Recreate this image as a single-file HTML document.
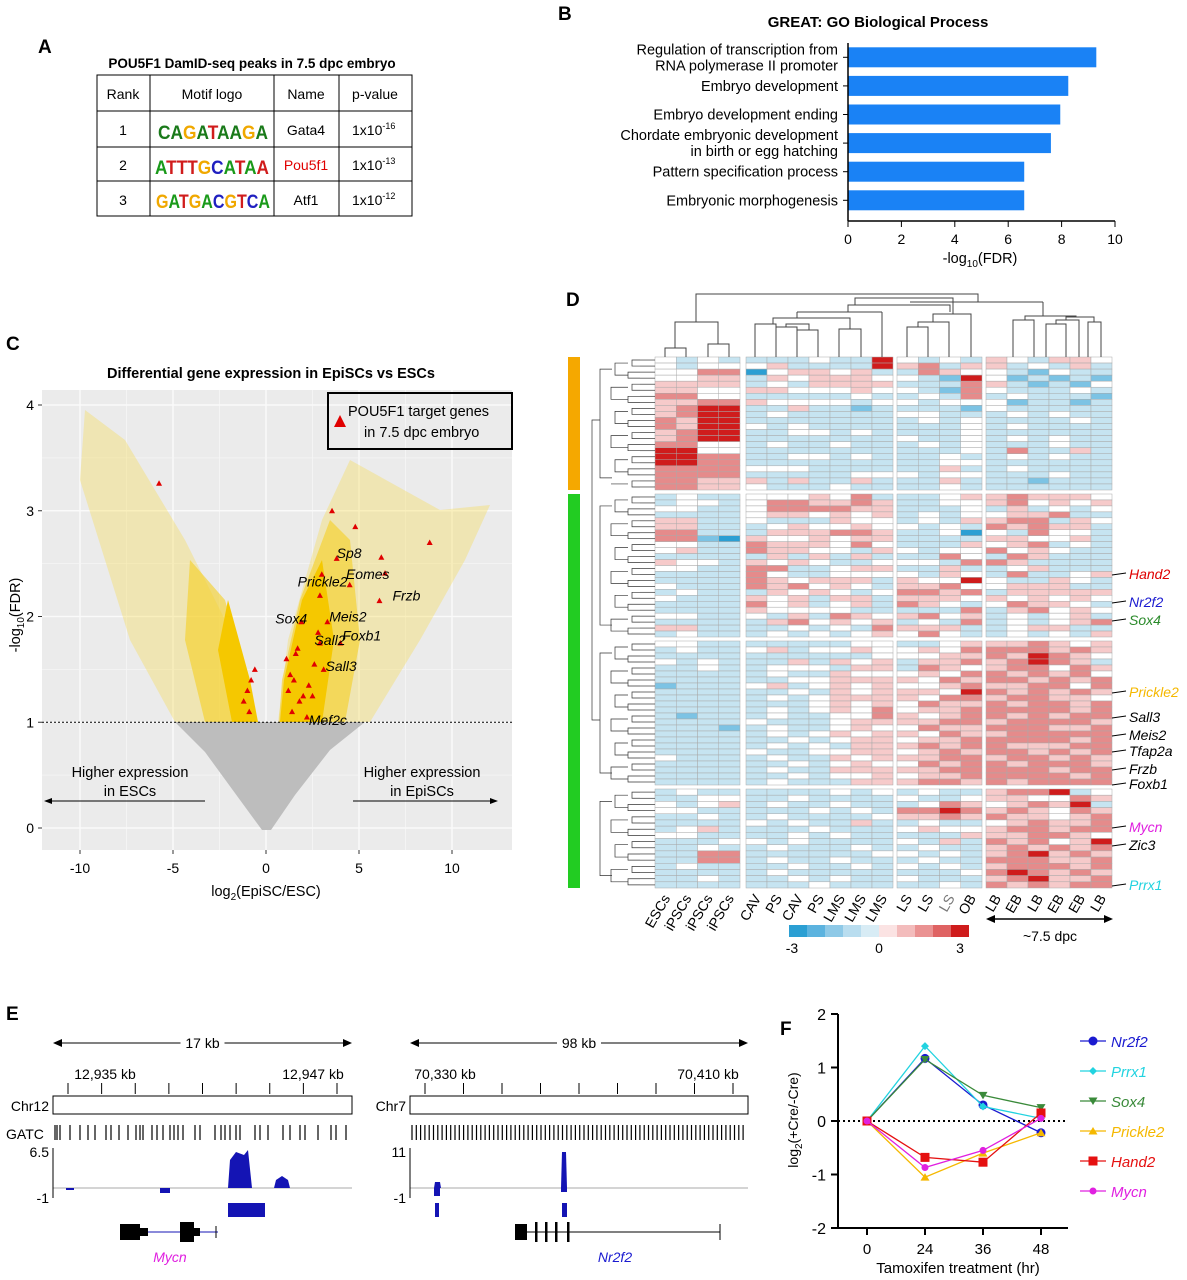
<!DOCTYPE html>
<html><head><meta charset="utf-8"><style>
body{margin:0;background:#fff}
svg{font-family:"Liberation Sans",Arial,sans-serif;display:block}
</style></head><body>
<svg id="fig" width="1187" height="1280" viewBox="0 0 1187 1280" xmlns="http://www.w3.org/2000/svg">
<g font-weight="bold" font-size="19">
<text x="38" y="53">A</text>
<text x="558" y="20">B</text>
<text x="6" y="350">C</text>
<text x="566" y="306">D</text>
<text x="6" y="1020">E</text>
<text x="780" y="1035">F</text>
</g>

<g id="panelA" font-size="14">
<text x="252" y="68" text-anchor="middle" font-weight="bold" font-size="13.5">POU5F1 DamID-seq peaks in 7.5 dpc embryo</text>
<g stroke="#000" stroke-width="1" fill="none">
<rect x="97" y="75" width="315" height="141"/>
<line x1="97" y1="111" x2="412" y2="111"/><line x1="97" y1="147" x2="412" y2="147"/><line x1="97" y1="181" x2="412" y2="181"/>
<line x1="150" y1="75" x2="150" y2="216"/><line x1="274" y1="75" x2="274" y2="216"/><line x1="339" y1="75" x2="339" y2="216"/>
</g>
<text x="123" y="99" text-anchor="middle">Rank</text><text x="212" y="99" text-anchor="middle">Motif logo</text><text x="306" y="99" text-anchor="middle">Name</text><text x="375" y="99" text-anchor="middle">p-value</text>
<text x="123" y="135" text-anchor="middle">1</text><text x="123" y="170" text-anchor="middle">2</text><text x="123" y="205" text-anchor="middle">3</text>
<g font-weight="bold" font-size="19">
<text x="158" y="139" textLength="110" lengthAdjust="spacingAndGlyphs"><tspan fill="#1a7a1a">CA</tspan><tspan fill="#f0a800">G</tspan><tspan fill="#1a7a1a">A</tspan><tspan fill="#d01c1c">T</tspan><tspan fill="#1a7a1a">AA</tspan><tspan fill="#f0a800">G</tspan><tspan fill="#1a7a1a">A</tspan></text>
<text x="155" y="174" textLength="114" lengthAdjust="spacingAndGlyphs"><tspan fill="#1a9a1a">A</tspan><tspan fill="#d01c1c">TTT</tspan><tspan fill="#f0a800">G</tspan><tspan fill="#2020c0">C</tspan><tspan fill="#1a9a1a">A</tspan><tspan fill="#d01c1c">T</tspan><tspan fill="#1a9a1a">A</tspan><tspan fill="#d01c1c">A</tspan></text>
<text x="156" y="208" textLength="114" lengthAdjust="spacingAndGlyphs"><tspan fill="#f0a800">G</tspan><tspan fill="#1a9a1a">A</tspan><tspan fill="#d01c1c">T</tspan><tspan fill="#f0a800">G</tspan><tspan fill="#1a9a1a">A</tspan><tspan fill="#2020c0">C</tspan><tspan fill="#f0a800">G</tspan><tspan fill="#d01c1c">T</tspan><tspan fill="#2020c0">C</tspan><tspan fill="#1a9a1a">A</tspan></text>
</g>
<text x="306" y="135" text-anchor="middle">Gata4</text><text x="306" y="170" text-anchor="middle" fill="#e00000">Pou5f1</text><text x="306" y="205" text-anchor="middle">Atf1</text>
<text x="352" y="135">1x10<tspan font-size="9" dy="-6">-16</tspan></text>
<text x="352" y="170">1x10<tspan font-size="9" dy="-6">-13</tspan></text>
<text x="352" y="205">1x10<tspan font-size="9" dy="-6">-12</tspan></text>
</g>

<g id="panelB"></g>
<g id="panelC"></g>
<g id="panelD"></g>
<g id="panelE"></g>
<g id="panelF"></g>
</svg>
<script>
const NS="http://www.w3.org/2000/svg";
function mk(parent,tag,attrs,text){const e=document.createElementNS(NS,tag);for(const k in attrs)e.setAttribute(k,attrs[k]);if(text!==undefined)e.textContent=text;parent.appendChild(e);return e;}

/* ---------- Panel B data ---------- */
const goTerms=[["Regulation of transcription from","RNA polymerase II promoter"],["Embryo development"],["Embryo development ending"],["Chordate embryonic development","in birth or egg hatching"],["Pattern specification process"],["Embryonic morphogenesis"]];
const goValues=[9.3,8.25,7.95,7.6,6.6,6.6];
const goTicks=[0,2,4,6,8,10];

/* ---------- Panel C data ---------- */
const targetLog2FC=[-5.75,8.8,6.2,6.4,3.55,4.8,3.8,4.5,6.1,2.9,3.3,1.9,2.9,4.0,3.1,2.2,1.2,1.5,1.8,2.3,1.4,2.6,1.1,1.7,2.0,2.5,1.3,-0.8,-1.0,-1.2,-0.6,-0.9,2.8,1.6,3.0];
const targetLogFDR=[3.26,2.7,2.56,2.41,3.0,2.85,2.55,2.3,2.15,2.2,1.95,1.95,1.75,1.75,1.5,1.05,1.3,1.4,1.2,1.35,1.1,1.55,1.6,1.7,1.25,1.25,1.45,1.4,1.3,1.2,1.5,1.1,1.85,1.65,2.4];
const geneLabels=["Sp8","Eomes","Frzb","Prickle2","Meis2","Sox4","Sall2","Foxb1","Sall3","Mef2c"];
const geneLabelX=[3.8,4.3,6.8,1.7,3.4,0.5,2.6,4.1,3.2,2.3];
const geneLabelY=[2.6,2.4,2.2,2.33,2.0,1.98,1.78,1.82,1.53,1.02];
const volcanoXTicks=[-10,-5,0,5,10];
const volcanoYTicks=[0,1,2,3,4];

/* ---------- Panel D data (levels 0..6 = -3..3) ---------- */
const heatBlock1=["3232|2223226|3232|432443","3233|3422226|4524|423242","3355|0344342|2543|321322","3344|2434443|3216|312121","4444|2324444|2225|421213","4433|4433343|3215|322232","5533|2222232|2325|232221","4455|4333323|3233|312212","4566|2242212|2221|322222","4566|2322222|3322|232322","5466|2222222|2323|222232","5466|3232222|2223|232222","4566|2233232|2223|222222","4566|2222222|3223|232322","5533|2322322|2323|222322","6633|2222222|2223|252242","6655|2233232|2232|232322","6655|2222222|2233|222222","5555|3332222|2242|232222","5555|2222233|3233|222322","5544|4242242|2242|221222","5544|3222322|2232|222222"];
const heatBlock2=["2322|3334352|2234|454443","2332|3554454|2233|453434","3322|3555544|2223|242323","2222|3443434|2323|344522","4422|3222433|2324|455243","4422|2343343|3232|545442","5522|2444554|2230|325332","5510|4334344|2222|443342","3322|5444353|2224|345232","3422|5443324|3233|534322","2222|2424242|2253|254222","4332|4343223|3325|542222","3322|5522344|2242|234222","2222|5322333|3243|252234","2222|5434442|4336|322432","3222|5453432|4453|344422","2322|2434323|5545|244444","3222|4342442|4443|434343","2222|5342342|5432|354432","2222|4333322|2225|245343","3322|3242543|4534|232342","2222|2453434|2325|232345","4422|2232325|4442|234422","2322|2323234|3532|232324"];
const heatBlock3=["3322|2222233|2234|445434","2322|3423343|3435|555454","2222|2222223|3344|546543","3232|2242434|2445|456542","2232|2333244|2543|455354","2222|2322433|3435|545453","2222|2233444|4354|554545","1222|3423434|3345|445535","2222|2232434|4436|545454","2222|2323444|4355|455443","2222|2223434|3544|545545","2222|2323435|3445|555545","2122|2322335|4345|545455","2222|3222344|4455|455554","2221|2322343|3544|555445","2222|2323434|4354|455555","2222|2232344|3445|555545","2222|2323244|4545|544455","2222|3223344|3454|554545","3222|2322434|4455|455454","2222|2232343|3545|545554","2222|2322444|4455|555455","2222|2232334|3445|555545","2222|2322244|4554|545555"];
const heatBlock4=["2322|2222323|2322|455623","2233|2232222|3223|443354","3234|2322322|2354|345462","3322|2223232|5565|454354","2232|2322223|4454|544345","2222|3232242|2322|345445","2342|2223222|3433|455455","3322|2232322|2224|445543","2223|3232222|3242|545346","2232|2322232|2322|454545","2255|2222223|3232|456454","2255|2322322|2322|555445","2322|2232232|3232|455545","2222|2322222|2223|565454","2232|2232322|3222|456445","2222|2223222|2232|545455"];
const heatColumns=["ESCs","iPSCs","iPSCs","iPSCs","CAV","PS","CAV","PS","LMS","LMS","LMS","LS","LS","LS","OB","LB","EB","LB","EB","EB","LB"];
const heatGenes=["Hand2","Nr2f2","Sox4","Prickle2","Sall3","Meis2","Tfap2a","Frzb","Foxb1","Mycn","Zic3","Prrx1"];
const heatGeneY=[575,603,621,693,718,736,752,770,785,828,846,886];
const heatGeneColors=["#e00000","#1a1ad0","#2a8a2a","#f5b800","#000","#000","#000","#000","#000","#e020e0","#000","#22d3e0"];

/* ---------- Panel E data ---------- */
const mycnGatc=[55,57,60,70,80,88,95,106,111,119,128,136,140,143,152,157,163,170,174,178,183,195,200,215,221,225,230,236,240,255,260,268,283,290,300,305,318,331,336,346];

/* ---------- Panel F data ---------- */
const timepoints=["0","24","36","48"];
const nr2f2=[0,1.17,0.3,-0.22];
const prrx1=[0,1.4,0.27,0.05];
const sox4=[0,1.15,0.48,0.25];
const prickle2=[0,-1.05,-0.6,-0.22];
const hand2=[0,-0.68,-0.77,0.15];
const mycn=[0,-0.87,-0.55,0.05];
const fYTicks=[-2,-1,0,1,2];

/* ---------- Panel B draw ---------- */
(function(){
 const g=document.getElementById('panelB');
 const x0=848,pxu=26.7,top=43,bh=28.6;
 const X=v=>x0+v*pxu;
 const t=mk(g,'text',{x:878,y:27,'text-anchor':'middle','font-weight':'bold','font-size':15},'GREAT: GO Biological Process');
 
 
 goValues.forEach((v,i)=>{
  const cy=top+bh*(i+0.5);
  const r=mk(g,'rect',{x:X(0),y:cy-10,width:X(v)-X(0),height:20,fill:'#1a82f5'});
  
  
  mk(g,'line',{x1:x0-5,y1:cy,x2:x0,y2:cy,stroke:'#000'});
  const lines=goTerms[i];
  lines.forEach((s,j)=>{
   const lt=mk(g,'text',{x:838,y:cy+5+(lines.length>1?(j-0.5)*16:0),'text-anchor':'end','font-size':14.5},s);
   
   
  });
 });
 mk(g,'line',{x1:x0,y1:top,x2:x0,y2:221,stroke:'#000','stroke-width':1.5});
 mk(g,'line',{x1:x0,y1:221,x2:X(10),y2:221,stroke:'#000','stroke-width':1.5});
 goTicks.forEach(v=>{mk(g,'line',{x1:X(v),y1:221,x2:X(v),y2:227,stroke:'#000'});
  const tl=mk(g,'text',{x:X(v),y:244,'text-anchor':'middle','font-size':14},String(v));
  
  });
 const xl=mk(g,'text',{x:980,y:263,'text-anchor':'middle','font-size':14.5});
 xl.innerHTML='-log<tspan font-size="10" dy="4">10</tspan><tspan dy="-4">(FDR)</tspan>';
 
 
})();

/* ---------- Panel C draw ---------- */
(function(){
 const g=document.getElementById('panelC');
 const X=v=>266+v*18.6, Y=v=>828-v*105.75;
 const tt=mk(g,'text',{x:271,y:378,'text-anchor':'middle','font-weight':'bold','font-size':14.5},'Differential gene expression in EpiSCs vs ESCs');
 
 
 mk(g,'rect',{x:42,y:390,width:470,height:460,fill:'#ebebeb'});
 [-7.5,-2.5,2.5,7.5].forEach(v=>mk(g,'line',{x1:X(v),y1:390,x2:X(v),y2:850,stroke:'#f6f6f6','stroke-width':0.8}));
 volcanoXTicks.forEach(v=>mk(g,'line',{x1:X(v),y1:390,x2:X(v),y2:850,stroke:'#fafafa','stroke-width':1.4}));
 [0.5,1.5,2.5,3.5].forEach(v=>mk(g,'line',{x1:42,y1:Y(v),x2:512,y2:Y(v),stroke:'#f6f6f6','stroke-width':0.8}));
 volcanoYTicks.forEach(v=>mk(g,'line',{x1:42,y1:Y(v),x2:512,y2:Y(v),stroke:'#fafafa','stroke-width':1.4}));
 const gray=mk(g,'polygon',{points:'262,830 271,830 295,795 330,750 365,722 175,722 205,752 240,800',fill:'#bdbdbd'});
 
 
 mk(g,'polygon',{points:'255,722 175,722 130,640 80,480 85,410 125,440 185,540 235,640',fill:'#f7d94a',opacity:0.35});
 mk(g,'polygon',{points:'256,722 205,722 185,640 190,560 225,600 248,680',fill:'#f5cf20',opacity:0.6});
 mk(g,'polygon',{points:'258,722 232,722 218,650 228,600 250,680',fill:'#f5c800'});
 mk(g,'polygon',{points:'278,722 370,722 420,640 465,560 490,505 440,510 350,460 322,520 288,640',fill:'#f7d94a',opacity:0.35});
 mk(g,'polygon',{points:'279,722 345,722 360,640 350,540 330,520 300,600 282,680',fill:'#f5cf20',opacity:0.6});
 const yr=mk(g,'polygon',{points:'280,722 322,722 334,640 322,560 302,600 284,680',fill:'#f5c800'});
 
 
 mk(g,'line',{x1:42,y1:Y(1),x2:512,y2:Y(1),stroke:'#000','stroke-dasharray':'2,2'});
 targetLog2FC.forEach((v,i)=>{const x=X(v),y=Y(targetLogFDR[i]);
  const p=mk(g,'polygon',{points:`${x},${y-3} ${x-3},${y+2.5} ${x+3},${y+2.5}`,fill:'#e00000'});
  
  });
 geneLabels.forEach((s,i)=>{
  const t=mk(g,'text',{x:X(geneLabelX[i]),y:Y(geneLabelY[i])+5,'font-size':14,'font-style':'italic'},s);
  
  });
 mk(g,'rect',{x:328,y:393,width:184,height:56,fill:'none',stroke:'#000','stroke-width':2});
 mk(g,'polygon',{points:'340,415 334,427 346,427',fill:'#e00000'});
 mk(g,'text',{x:348,y:416,'font-size':14.5},'POU5F1 target genes');
 mk(g,'text',{x:364,y:437,'font-size':14.5},'in 7.5 dpc embryo');
 mk(g,'text',{x:130,y:777,'text-anchor':'middle','font-size':14.5},'Higher expression');
 mk(g,'text',{x:130,y:796,'text-anchor':'middle','font-size':14.5},'in ESCs');
 mk(g,'text',{x:422,y:777,'text-anchor':'middle','font-size':14.5},'Higher expression');
 mk(g,'text',{x:422,y:796,'text-anchor':'middle','font-size':14.5},'in EpiSCs');
 mk(g,'line',{x1:205,y1:801,x2:50,y2:801,stroke:'#000'});mk(g,'polygon',{points:'44,801 52,798 52,804',fill:'#000'});
 mk(g,'line',{x1:353,y1:801,x2:492,y2:801,stroke:'#000'});mk(g,'polygon',{points:'498,801 490,798 490,804',fill:'#000'});
 volcanoXTicks.forEach(v=>{mk(g,'line',{x1:X(v),y1:850,x2:X(v),y2:854,stroke:'#333'});
  const t=mk(g,'text',{x:X(v),y:873,'text-anchor':'middle','font-size':14},String(v));
  
  });
 volcanoYTicks.forEach(v=>{mk(g,'line',{x1:38,y1:Y(v),x2:42,y2:Y(v),stroke:'#333'});
  const t=mk(g,'text',{x:34,y:Y(v)+5,'text-anchor':'end','font-size':14},String(v));
  
  });
 const xl=mk(g,'text',{x:266,y:896,'text-anchor':'middle','font-size':14.5});
 xl.innerHTML='log<tspan font-size="10" dy="4">2</tspan><tspan dy="-4">(EpiSC/ESC)</tspan>';
 
 
 const yl=mk(g,'text',{x:0,y:0,'text-anchor':'middle','font-size':14.5,transform:'translate(20,615) rotate(-90)'});
 yl.innerHTML='-log<tspan font-size="10" dy="4">10</tspan><tspan dy="-4">(FDR)</tspan>';
 
 
})();

/* ---------- Panel D draw ---------- */
(function(){
 const g=document.getElementById('panelD');
 const colors=["#2b9fd3","#7cc3e4","#c6e4f1","#ffffff","#f6caca","#e58b8b","#cf1c1c"];
 const groups=[[655,740,4],[746,893,7],[897,982,4],[986,1112,6]];
 const colX=[];groups.forEach(gr=>{const w=(gr[1]-gr[0])/gr[2];for(let i=0;i<gr[2];i++)colX.push([gr[0]+i*w,w]);});
 const blocks=[[heatBlock1,357,490],[heatBlock2,494,637],[heatBlock3,641,785],[heatBlock4,789,888]];
 blocks.forEach(([rows,y0,y1])=>{const h=(y1-y0)/rows.length;
  rows.forEach((r,ri)=>{const vals=r.replace(/\|/g,'').split('').map(Number);
   vals.forEach((v,ci)=>{const c=mk(g,'rect',{x:colX[ci][0],y:y0+ri*h,width:colX[ci][1],height:h,fill:colors[v],stroke:'#a9a9a9','stroke-width':0.5});
    
    });
   mk(g,'line',{x1:640,y1:y0+(ri+0.5)*h,x2:655,y2:y0+(ri+0.5)*h,stroke:'#333','stroke-width':0.7});
  });
  const n=rows.length;
  for(let k=0;k<n;k+=2){const ya=y0+(k+0.5)*h,yb=y0+(Math.min(k+1,n-1)+0.5)*h;mk(g,'polyline',{points:`640,${ya} ${632-(k%4)*2},${ya} ${632-(k%4)*2},${yb} 640,${yb}`,fill:'none',stroke:'#333','stroke-width':0.7});}
  for(let k=0;k<n;k+=4){const ya=y0+(k+1)*h,yb=y0+(Math.min(k+3,n-1))*h;mk(g,'polyline',{points:`628,${ya} ${615-(k%8)},${ya} ${615-(k%8)},${yb} 628,${yb}`,fill:'none',stroke:'#333','stroke-width':0.7});}
  mk(g,'polyline',{points:`612,${y0+h*2} 600,${y0+h*2} 600,${y1-h*2} 612,${y1-h*2}`,fill:'none',stroke:'#333','stroke-width':0.7});
 });
 mk(g,'polyline',{points:'600,420 592,420 592,720 600,720',fill:'none',stroke:'#333','stroke-width':0.7});
 const ob=mk(g,'rect',{x:568,y:357,width:12,height:133,fill:'#f5a800'});
 
 
 const gb=mk(g,'rect',{x:568,y:494,width:12,height:394,fill:'#22cc22'});
 
 
 const segs=["665,357 665,348 686,348 686,357","708,357 708,344 729,344 729,357","675,348 675,322 718,322 718,344","696,322 696,294 978,294 978,302",
 "755,357 755,324 776,324 776,357","776,324 776,327 797,327 797,357","797,330 818,330 818,357","786,327 786,324 809,324 809,330",
 "839,357 839,329 861,329 861,357","773,324 773,318 850,318 850,329","882,357 882,312","797,312 882,312",
 "797,318 797,312","848,312 848,305 950,305 950,312","907,357 907,327 928,327 928,357","918,327 918,322 949,322 949,357",
 "933,322 933,314 971,314 971,357","855,305 855,298 953,298 953,314","1013,357 1013,320 1034,320 1034,357","1046,357 1046,324 1066,324 1066,357",
 "1056,324 1056,320 1079,320 1079,357","1088,357 1088,322 1101,322 1101,357","1066,320 1066,317 1094,317 1094,322","1025,320 1025,316 1076,316 1076,317","1043,316 1043,302","910,302 1043,302"];
 segs.forEach(p=>{const l=mk(g,'polyline',{points:p,fill:'none',stroke:'#444','stroke-width':1});
  
  });
 const cx=colX.map(c=>c[0]+c[1]/2);
 heatColumns.forEach((s,i)=>{const t=mk(g,'text',{x:0,y:0,'text-anchor':'end','font-size':14,fill:i===13?'#777':'#000',transform:`translate(${cx[i]+5},${898}) rotate(-60)`},s);
  
  });
 heatGenes.forEach((s,i)=>{const y=heatGeneY[i];mk(g,'line',{x1:1112,y1:y,x2:1126,y2:y-2,stroke:'#000'});
  const t=mk(g,'text',{x:1129,y:y+4,'font-size':14,'font-style':'italic',fill:heatGeneColors[i]},s);
  
  });
 const cs=["#2b9fd3","#5cb3df","#8ec9e7","#b9ddef","#d8ecf5","#fbe3e3","#f3bcbc","#ea9292","#df6363","#cf1c1c"];
 cs.forEach((c,i)=>mk(g,'rect',{x:789+i*18,y:925,width:18,height:12,fill:c}));
 [['-3',792],['0',879],['3',960]].forEach(([s,x])=>{const t=mk(g,'text',{x:x,y:953,'text-anchor':'middle','font-size':14},s);
  
  });
 mk(g,'line',{x1:992,y1:919,x2:1107,y2:919,stroke:'#000','stroke-width':1.5});
 mk(g,'polygon',{points:'986,919 995,915 995,923',fill:'#000'});mk(g,'polygon',{points:'1113,919 1104,915 1104,923',fill:'#000'});
 mk(g,'text',{x:1050,y:941,'text-anchor':'middle','font-size':14},'~7.5 dpc');
})();

/* ---------- Panel E draw ---------- */
(function(){
 const g=document.getElementById('panelE');
 function track(x0,x1,span,lblL,lblR,lxL,lxR,chr,gatc,ymax,peaks,bars,gene,gx,gcol,gname){
  mk(g,'line',{x1:x0+6,y1:1043,x2:x1-6,y2:1043,stroke:'#000'});
  mk(g,'polygon',{points:`${x0},1043 ${x0+9},1039 ${x0+9},1047`,fill:'#000'});mk(g,'polygon',{points:`${x1},1043 ${x1-9},1039 ${x1-9},1047`,fill:'#000'});
  const mid=(x0+x1)/2;mk(g,'rect',{x:mid-22,y:1035,width:44,height:16,fill:'#fff'});
  mk(g,'text',{x:mid,y:1048,'text-anchor':'middle','font-size':14},span);
  mk(g,'text',{x:lxL,y:1079,'text-anchor':'middle','font-size':14},lblL);mk(g,'text',{x:lxR,y:1079,'text-anchor':'middle','font-size':14},lblR);
  for(let i=0;i<9;i++){const x=x0+15+i*(x1-x0-30)/8;mk(g,'line',{x1:x,y1:1083,x2:x,y2:1094,stroke:'#000'});}
  mk(g,'rect',{x:x0,y:1096,width:x1-x0,height:18,fill:'#fff',stroke:'#000'});
  mk(g,'text',{x:x0-4,y:1111,'text-anchor':'end','font-size':14},chr);
  gatc.forEach(x=>mk(g,'line',{x1:x,y1:1125,x2:x,y2:1140,stroke:'#000','stroke-width':1.2}));
  mk(g,'line',{x1:x0,y1:1188,x2:x1,y2:1188,stroke:'#aaa'});
  mk(g,'line',{x1:x0,y1:1148,x2:x0,y2:1198,stroke:'#000'});
  mk(g,'text',{x:x0-4,y:1157,'text-anchor':'end','font-size':14},ymax);mk(g,'text',{x:x0-4,y:1203,'text-anchor':'end','font-size':14},'-1');
  peaks.forEach(p=>{const r=mk(g,'path',{d:p,fill:'#1414b4'});
   
   });
  bars.forEach(b=>mk(g,'rect',{x:b[0],y:1203,width:b[1],height:14,fill:'#1414b4'}));
  gene();
  mk(g,'text',{x:gx,y:1262,'text-anchor':'middle','font-size':14,'font-style':'italic',fill:gcol},gname);
 }
 mk(g,'text',{x:6,y:1139,'font-size':14},'GATC');
 track(53,352,'17 kb','12,935 kb','12,947 kb',105,313,'Chr12',mycnGatc,'6.5',
  ['M228,1188 L230,1160 L236,1152 L244,1155 L248,1150 L252,1188 Z','M274,1188 L276,1180 L282,1176 L288,1180 L290,1188 Z','M66,1188 h8 v2 h-8Z','M160,1188 h10 v5 h-10Z'],[[228,37]],
  ()=>{mk(g,'line',{x1:140,y1:1232,x2:218,y2:1232,stroke:'#1414b4'});mk(g,'rect',{x:120,y:1224,width:20,height:16,fill:'#000'});mk(g,'rect',{x:140,y:1228,width:8,height:8,fill:'#000'});mk(g,'rect',{x:180,y:1222,width:14,height:20,fill:'#000'});mk(g,'rect',{x:194,y:1228,width:6,height:8,fill:'#000'});mk(g,'line',{x1:216,y1:1226,x2:216,y2:1238,stroke:'#000'});},170,'#e020e0','Mycn');
 const nrGatc=[];for(let x=412;x<746;x+=4.3)nrGatc.push(x);
 track(410,748,'98 kb','70,330 kb','70,410 kb',445,708,'Chr7',nrGatc,'11',
  ['M561,1188 L562,1152 L566,1152 L567,1188 Z','M434,1188 L435,1182 L440,1182 L441,1188Z','M434,1188 h6 v8 h-6Z','M561,1188 h6 v4 h-6Z'],[[435,4],[562,5]],
  ()=>{mk(g,'line',{x1:515,y1:1232,x2:720,y2:1232,stroke:'#000'});mk(g,'rect',{x:515,y:1224,width:12,height:16,fill:'#000'});[535,545,555,567].forEach(x=>mk(g,'rect',{x:x,y:1222,width:2.5,height:20,fill:'#000'}));mk(g,'line',{x1:720,y1:1224,x2:720,y2:1240,stroke:'#000'});},615,'#1a1ad0','Nr2f2');
})();

/* ---------- Panel F draw ---------- */
(function(){
 const g=document.getElementById('panelF');
 const X=i=>867+i*58, Y=v=>1121-v*53.5;
 fYTicks.forEach(v=>{mk(g,'line',{x1:831,y1:Y(v),x2:838,y2:Y(v),stroke:'#000','stroke-width':2});
  const t=mk(g,'text',{x:826,y:Y(v)+6,'text-anchor':'end','font-size':16},String(v));
  
  });
 mk(g,'line',{x1:838,y1:Y(2),x2:838,y2:Y(-2),stroke:'#000','stroke-width':2});
 mk(g,'line',{x1:837,y1:Y(-2),x2:1068,y2:Y(-2),stroke:'#000','stroke-width':2});
 timepoints.forEach((s,i)=>{mk(g,'line',{x1:X(i),y1:Y(-2),x2:X(i),y2:Y(-2)+7,stroke:'#000','stroke-width':2});
  const t=mk(g,'text',{x:X(i),y:1254,'text-anchor':'middle','font-size':15},s);
  
  });
 mk(g,'line',{x1:838,y1:Y(0),x2:1068,y2:Y(0),stroke:'#000','stroke-width':2,'stroke-dasharray':'2,3'});
 mk(g,'text',{x:958,y:1273,'text-anchor':'middle','font-size':15},'Tamoxifen treatment (hr)');
 const yl=mk(g,'text',{x:0,y:0,'text-anchor':'middle','font-size':14,transform:'translate(798,1120) rotate(-90)'});
 yl.innerHTML='log<tspan font-size="10" dy="4">2</tspan><tspan dy="-4">(+Cre/-Cre)</tspan>';
 
 
 const series=[["Nr2f2",nr2f2,"#1a1ad0","circle"],["Prrx1",prrx1,"#22d3e0","diamond"],["Sox4",sox4,"#3a8a3a","tdown"],["Prickle2",prickle2,"#f5b800","tup"],["Hand2",hand2,"#e51010","square"],["Mycn",mycn,"#e020e0","smallcircle"]];
 function marker(x,y,t,c){
  if(t==='circle')return mk(g,'circle',{cx:x,cy:y,r:4.5,fill:c});
  if(t==='smallcircle')return mk(g,'circle',{cx:x,cy:y,r:3.5,fill:c});
  if(t==='diamond')return mk(g,'polygon',{points:`${x},${y-4} ${x+4},${y} ${x},${y+4} ${x-4},${y}`,fill:c});
  if(t==='tdown')return mk(g,'polygon',{points:`${x-4.5},${y-3.5} ${x+4.5},${y-3.5} ${x},${y+4}`,fill:c});
  if(t==='tup')return mk(g,'polygon',{points:`${x-4.5},${y+3.5} ${x+4.5},${y+3.5} ${x},${y-4}`,fill:c});
  return mk(g,'rect',{x:x-4.5,y:y-4.5,width:9,height:9,fill:c});
 }
 series.forEach(([name,vals,c,t],si)=>{
  const l=mk(g,'polyline',{points:vals.map((v,i)=>`${X(i)},${Y(v)}`).join(' '),fill:'none',stroke:c,'stroke-width':1.3});
  
  
  vals.forEach((v,i)=>{const m=marker(X(i),Y(v),t,c);
   
   });
  const ly=1041+si*30;
  mk(g,'line',{x1:1080,y1:ly,x2:1106,y2:ly,stroke:c,'stroke-width':1.3});marker(1093,ly,t,c);
  const lt=mk(g,'text',{x:1111,y:ly+6,'font-size':15,'font-style':'italic',fill:c},name);
  
  
 });
})();
</script>
</body></html>
